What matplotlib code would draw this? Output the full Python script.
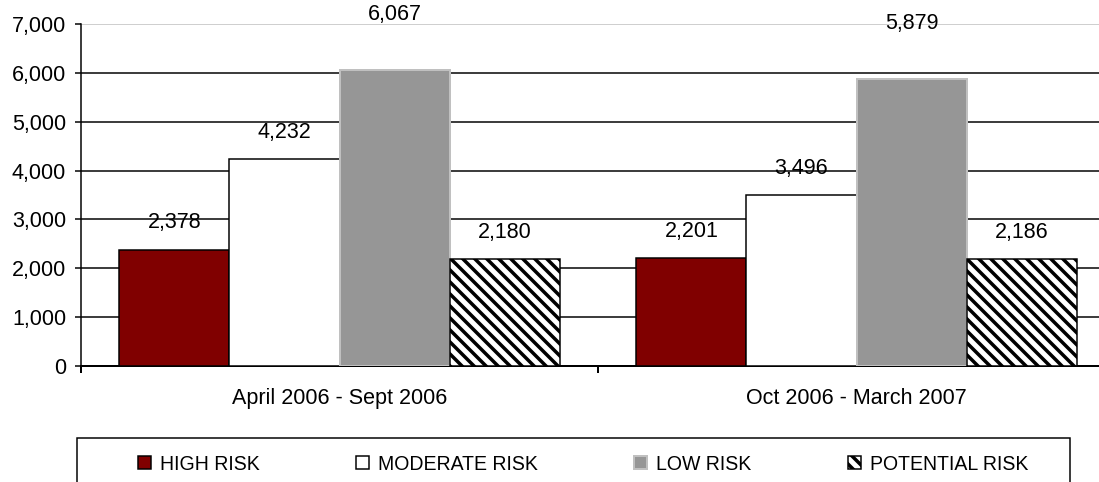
import matplotlib.pyplot as plt
import numpy as np
from matplotlib.patches import Rectangle

periods = ['April 2006 - Sept 2006', 'Oct 2006 - March 2007']
series = ['HIGH RISK', 'MODERATE RISK', 'LOW RISK', 'POTENTIAL RISK']
high_risk = [2378, 2201]
moderate_risk = [4232, 3496]
low_risk = [6067, 5879]
potential_risk = [2180, 2186]
yticks = [0, 1000, 2000, 3000, 4000, 5000, 6000, 7000]

plt.rcParams['font.family'] = ['Liberation Sans', 'DejaVu Sans']
plt.rcParams['hatch.linewidth'] = 3.5

# dpi 72 so that one point is one pixel
fig = plt.figure(figsize=(1099 / 72, 482 / 72), dpi=72)
ax = fig.add_axes([81 / 1099, 116 / 482, 1034 / 1099, 342 / 482])

styles = [
    dict(color='#800000', edgecolor='black', linewidth=1.5),
    dict(color='white', edgecolor='black', linewidth=1.5),
    dict(color='#969696', edgecolor='#c0c0c0', linewidth=2),
    dict(color='white', edgecolor='black', linewidth=1.5, hatch='\\\\'),
]
label_offsets = [27, 27, 55, 27]

width = 0.2128
x = np.arange(len(periods)) + 0.5
values = [high_risk, moderate_risk, low_risk, potential_risk]
handles = []
for i, (name, vals) in enumerate(zip(series, values)):
    pos = x + (i - 1.5) * width
    bars = ax.bar(pos, vals, width, label=name, zorder=3, **styles[i])
    handles.append(bars)
    for p, v in zip(pos, vals):
        ax.annotate(f'{v:,}', (p, v), xytext=(0, label_offsets[i]),
                    textcoords='offset points', ha='center', va='center',
                    fontsize=21.5, zorder=4)

ax.set_xlim(0, 2)
ax.set_ylim(0, 7000)
ax.set_yticks(yticks)
ax.set_yticklabels([f'{t:,}' for t in yticks], fontsize=21.5)
ax.yaxis.grid(True, color='black', linewidth=1.5, zorder=0)
ax.set_axisbelow(True)
ax.get_ygridlines()[-1].set_color('#c0c0c0')

ax.set_xticks([0, 1, 2])
ax.set_xticklabels([])
ax.set_xticks(x, minor=True)
ax.set_xticklabels(periods, minor=True, fontsize=21.5)
ax.tick_params(axis='x', which='minor', length=0, pad=22)
ax.tick_params(axis='x', which='major', length=7, width=2, direction='out')
ax.tick_params(axis='y', length=6, width=1.5, direction='out', pad=9)

for s in ['top', 'right']:
    ax.spines[s].set_visible(False)
ax.spines['left'].set_linewidth(1.5)
ax.spines['bottom'].set_linewidth(2)

# legend box drawn separately, the entries sit inside it
fig.patches.append(Rectangle((77 / 1099, -10 / 482), 993 / 1099, 54 / 482,
                             transform=fig.transFigure, facecolor='white',
                             edgecolor='black', linewidth=1.5, zorder=0))
leg = fig.legend(handles=handles, loc='center left',
                 bbox_to_anchor=(138 / 1099, 18 / 482),
                 ncol=4, fontsize=19.5, handlelength=0.67, handleheight=0.67,
                 handletextpad=0.45, columnspacing=4.95, borderpad=0,
                 borderaxespad=0, frameon=False)

fig.savefig('out.png', dpi=72)
